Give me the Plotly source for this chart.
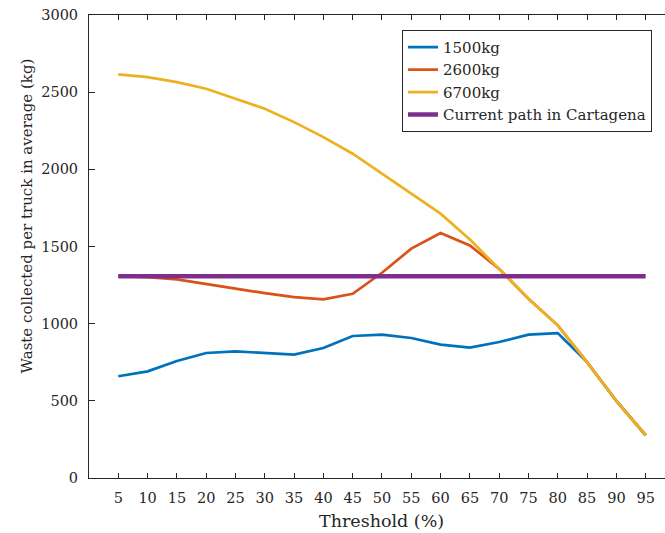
import plotly.graph_objects as go

thresholds = [5, 10, 15, 20, 25, 30, 35, 40, 45, 50, 55, 60, 65, 70, 75, 80, 85, 90, 95]
waste_1500 = [659, 691, 758, 810, 821, 810, 799, 842, 920, 929, 907, 864, 845, 881, 929, 939, 751, 499, 277]
waste_2600 = [1308, 1302, 1287, 1259, 1227, 1198, 1172, 1157, 1194, 1330, 1486, 1587, 1507, 1355, 1162, 989, 751, 499, 277]
waste_6700 = [2615, 2597, 2565, 2522, 2457, 2393, 2306, 2209, 2101, 1972, 1843, 1713, 1545, 1355, 1162, 989, 751, 499, 277]
current_path = [1308] * len(thresholds)

series_names = ["1500kg", "2600kg", "6700kg", "Current path in Cartagena"]
colors = ["#0072BD", "#D95319", "#EDB120", "#7E2F8E"]
widths = [2.7, 2.7, 2.7, 4.5]
x_title = "Threshold (%)"
y_title = "Waste collected per truck in average (kg)"

FONT = "DejaVu Serif"
AX = "#262626"

fig = go.Figure()
for name, ys, c, w in zip(series_names, [waste_1500, waste_2600, waste_6700, current_path], colors, widths):
    fig.add_trace(go.Scatter(x=thresholds, y=ys, mode="lines", name=name,
                             line=dict(color=c, width=w)))

W, H = 665, 533
L, R, T, B = 89, 0, 14.5, 55.3
PW, PH = W - L - R, H - T - B
fig.update_layout(
    width=W, height=H,
    margin=dict(l=L, r=R, t=T, b=B, pad=0),
    plot_bgcolor="white", paper_bgcolor="white",
    font=dict(family=FONT, size=15, color=AX),
    showlegend=True,
    legend=dict(x=(402 - L) / PW, y=(H - B - 29.3) / PH,
                xanchor="left", yanchor="top",
                bordercolor=AX, borderwidth=1, bgcolor="white",
                font=dict(family=FONT, size=15, color=AX),
                tracegroupgap=0),
    xaxis=dict(range=[0, 98.3], tickvals=thresholds, ticktext=[str(t) for t in thresholds],
               showline=True, linecolor=AX, linewidth=1, mirror="ticks",
               ticks="inside", ticklen=5, tickcolor=AX, showgrid=False, zeroline=False,
               tickfont=dict(family=FONT, size=14.5, color=AX), ticklabelstandoff=7),
    yaxis=dict(range=[0, 3000], tickvals=[0, 500, 1000, 1500, 2000, 2500, 3000],
               showline=True, linecolor=AX, linewidth=1, mirror=False,
               ticks="inside", ticklen=6, tickcolor=AX, showgrid=False, zeroline=False,
               tickfont=dict(family=FONT, size=14.5, color=AX), ticklabelstandoff=7),
    annotations=[
        dict(text=x_title, xref="x", yref="paper", x=50, y=-(521 - (H - B)) / PH,
             xanchor="center", yanchor="middle", showarrow=False,
             font=dict(family=FONT, size=17.5, color=AX)),
        dict(text=y_title, xref="paper", yref="paper", x=-(L - 27) / PW,
             y=(H - B - 216) / PH, textangle=-90,
             xanchor="center", yanchor="middle", showarrow=False,
             font=dict(family=FONT, size=15, color=AX)),
    ],
)

fig.write_html("out.html")
